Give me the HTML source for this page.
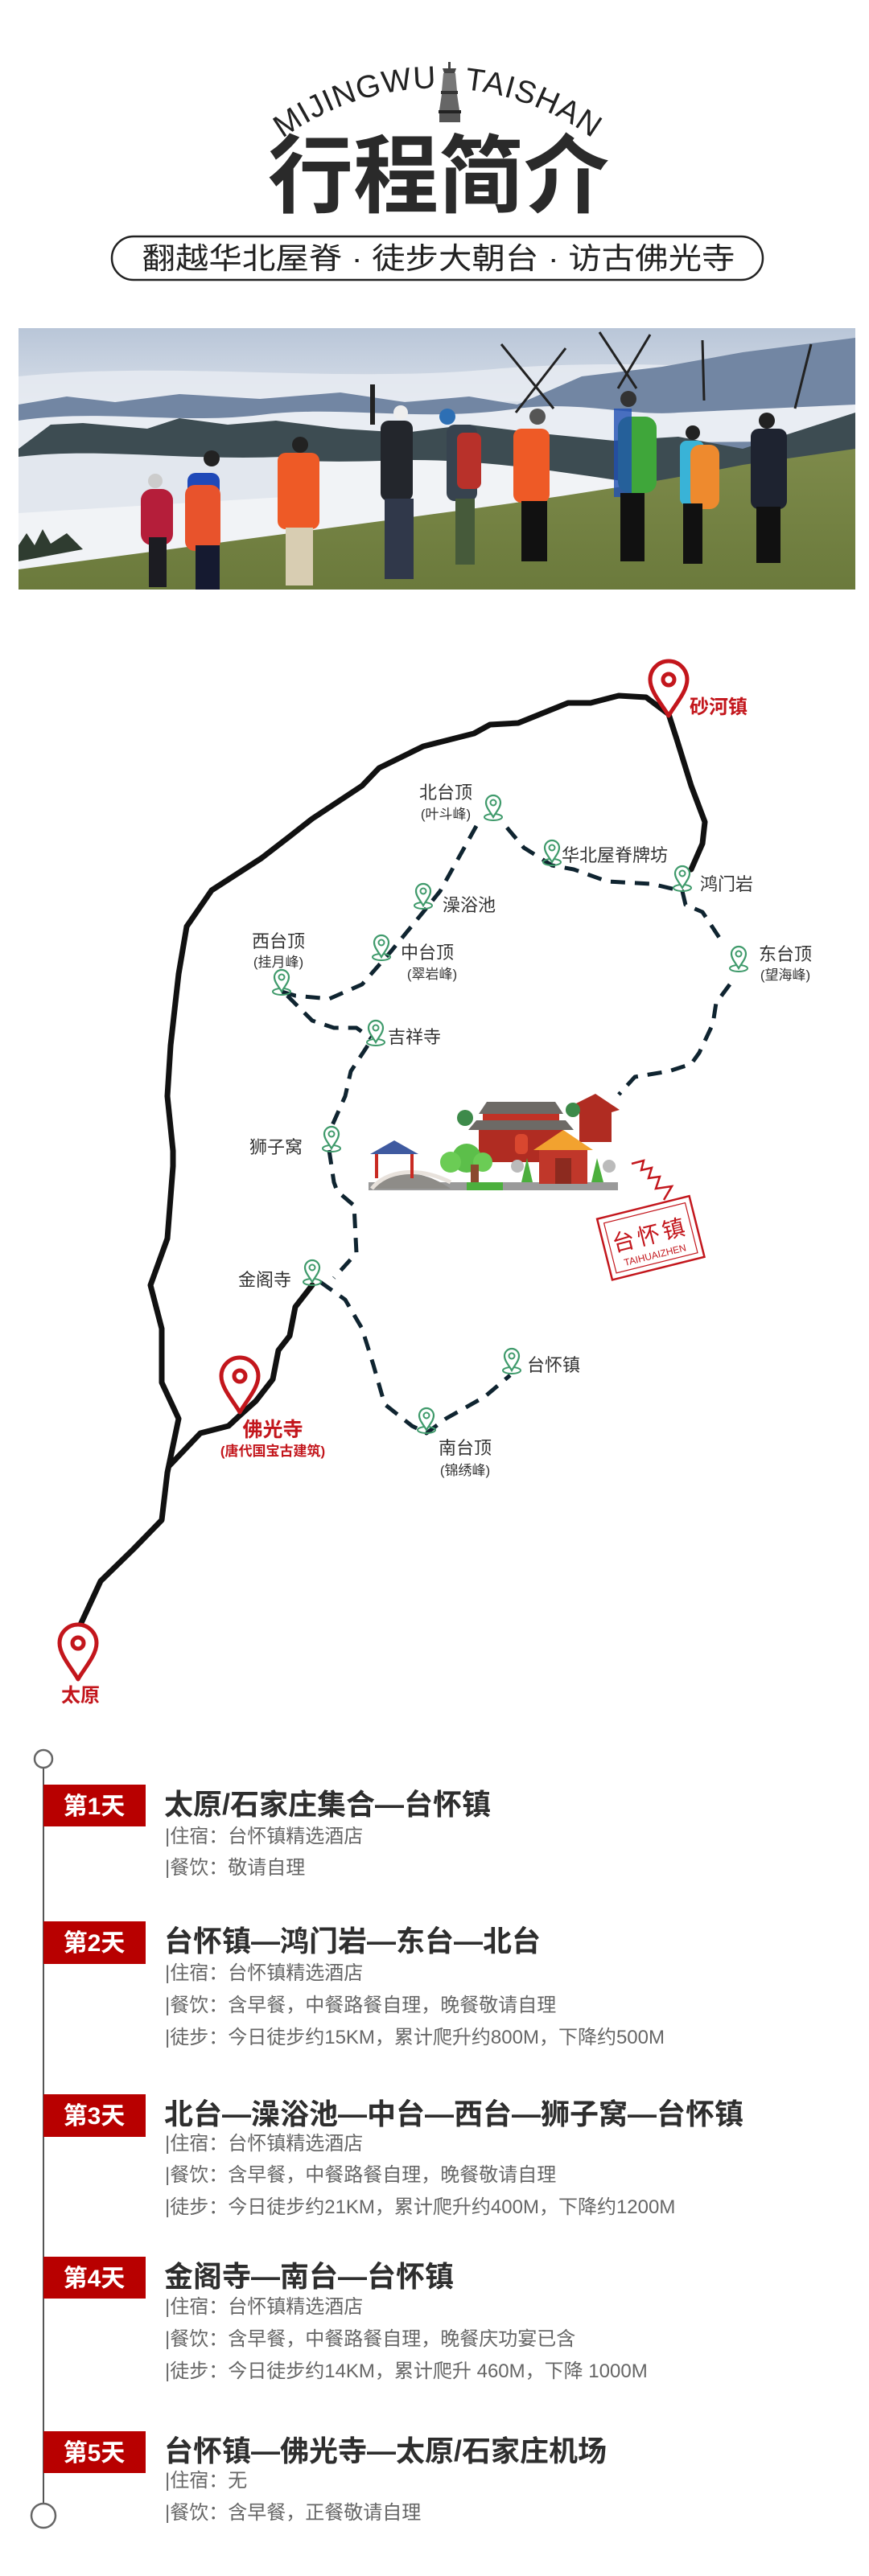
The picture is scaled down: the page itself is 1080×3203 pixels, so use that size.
<!DOCTYPE html>
<html><head><meta charset="utf-8">
<style>
html,body{margin:0;padding:0;background:#fff;}
svg{display:block;}
.cn{font-family:"Liberation Sans","Noto Sans CJK SC",sans-serif;}
</style></head>
<body>
<svg width="1080" height="3203" viewBox="0 0 1080 3203" xmlns="http://www.w3.org/2000/svg" class="cn">
<defs>
<path id="arc" d="M313,205 A327,327 0 0 1 775,205"/>
<linearGradient id="sky" x1="0" y1="0" x2="0" y2="1">
<stop offset="0" stop-color="#b9c6d8"/><stop offset="0.3" stop-color="#d9e0ea"/><stop offset="0.6" stop-color="#eef1f5"/><stop offset="1" stop-color="#f3f5f8"/>
</linearGradient>
<linearGradient id="grass" x1="0" y1="0" x2="0" y2="1">
<stop offset="0" stop-color="#7d8a4a"/><stop offset="1" stop-color="#6b7a3c"/>
</linearGradient>
<g id="gp">
<ellipse cx="0" cy="12" rx="11" ry="4" fill="none" stroke="#3f9a6b" stroke-width="2"/>
<path d="M0,12 C-4,5 -9,0 -9,-6 A9,9 0 0 1 9,-6 C9,0 4,5 0,12 Z" fill="#fff" stroke="#3f9a6b" stroke-width="2.2"/>
<circle cx="0" cy="-6" r="3.5" fill="none" stroke="#3f9a6b" stroke-width="2"/>
</g>
<g id="rp">
<path d="M0,34 C-8,20 -23,4 -23,-11 A23,23 0 0 1 23,-11 C23,4 8,20 0,34 Z" fill="#fff" stroke="#c3161c" stroke-width="5" stroke-linejoin="round"/>
<circle cx="0" cy="-11" r="7" fill="none" stroke="#c3161c" stroke-width="5"/>
</g>
</defs>

<!-- Header -->
<text font-family="Liberation Sans,sans-serif" font-size="39" fill="#222" text-anchor="middle"><textPath href="#arc" startOffset="50%" letter-spacing="1">MIJINGWU<tspan dx="34">TAISHAN</tspan></textPath></text>
<g fill="#444">
<rect x="557" y="77" width="3" height="8"/>
<path d="M550,85 h17 l-2,6 h-13 z"/>
<path d="M551,91 h15 l2,22 h-19 z" fill="#777"/>
<rect x="548" y="113" width="21" height="4" fill="#333"/>
<path d="M549,117 h19 l3,20 h-25 z" fill="#666"/>
<rect x="545" y="137" width="28" height="4" fill="#222"/>
<rect x="546" y="141" width="26" height="11" fill="#555"/>
</g>
<text x="545" y="256" font-size="106" font-weight="bold" fill="#2a2a2a" text-anchor="middle">行程简介</text>
<rect x="139" y="294" width="809" height="54" rx="27" fill="#fff" stroke="#222" stroke-width="2.5"/>
<text x="545" y="334" font-size="37" fill="#222" text-anchor="middle" textLength="737" lengthAdjust="spacingAndGlyphs">翻越华北屋脊 · 徒步大朝台 · 访古佛光寺</text>

<!-- Photo -->
<svg x="23" y="408" width="1040" height="325" viewBox="0 0 1040 325" preserveAspectRatio="none">
<rect width="1040" height="325" fill="url(#sky)"/>
<path d="M0,60 C200,40 400,70 600,50 C800,35 950,60 1040,45 L1040,90 C800,100 500,80 0,100 Z" fill="#e8ecf2" opacity="0.8"/>
<path d="M0,95 L60,85 L120,92 L200,82 L300,88 L400,80 L480,92 L560,85 L620,95 L700,60 L800,48 L900,30 L1040,12 L1040,170 L0,170 Z" fill="#7286a3"/>
<path d="M0,115 C100,100 200,120 300,108 C400,95 500,118 620,100 C700,90 760,110 820,105 L1040,95 L1040,140 L0,150 Z" fill="#e9edf3"/>
<path d="M0,150 L40,120 L80,118 L160,125 L200,112 L260,120 L320,115 L400,125 L480,130 L560,120 L640,130 L740,140 L820,135 L900,150 L1040,105 L1040,200 L0,200 Z" fill="#3d4c52"/>
<path d="M0,160 C150,150 300,170 450,165 C550,160 650,175 750,190 L750,300 L0,300 Z" fill="#f1f3f6"/>
<path d="M0,160 C100,148 200,165 330,160 L330,210 L0,230 Z" fill="#e2e7ee"/>
<path d="M0,325 L0,300 C150,280 300,260 450,240 C600,220 750,200 900,170 L1040,150 L1040,325 Z" fill="url(#grass)"/>
<path d="M0,270 L10,255 L20,270 L30,250 L40,268 L60,255 L80,275 L0,290 Z" fill="#2f3c30"/>
<g>
<rect x="152" y="200" width="40" height="70" rx="14" fill="#b51e3a"/><rect x="162" y="260" width="22" height="62" fill="#1c1c22"/><circle cx="170" cy="190" r="9" fill="#ccc"/>
<rect x="210" y="180" width="40" height="95" rx="10" fill="#1f49b8"/><rect x="207" y="195" width="44" height="82" rx="12" fill="#e8532c"/><rect x="220" y="270" width="30" height="55" fill="#151a30"/><circle cx="240" cy="162" r="10" fill="#222"/>
<rect x="322" y="155" width="52" height="95" rx="10" fill="#ee5a26"/><rect x="332" y="248" width="34" height="72" fill="#d8cdb2"/><circle cx="350" cy="145" r="10" fill="#222"/>
<rect x="450" y="115" width="40" height="100" rx="10" fill="#23262c"/><rect x="455" y="212" width="36" height="100" fill="#30384a"/><circle cx="475" cy="105" r="9" fill="#eee"/><rect x="437" y="70" width="6" height="50" fill="#222"/>
<rect x="532" y="120" width="38" height="95" rx="10" fill="#37434f"/><rect x="545" y="130" width="30" height="70" rx="8" fill="#b8312a"/><rect x="543" y="212" width="24" height="82" fill="#465a3a"/><circle cx="533" cy="110" r="10" fill="#2d6fb4"/>
<rect x="615" y="125" width="45" height="92" rx="10" fill="#ee5a26"/><rect x="625" y="215" width="32" height="75" fill="#111"/><circle cx="645" cy="110" r="10" fill="#555"/>
<rect x="745" y="110" width="48" height="95" rx="14" fill="#3fa63a"/><rect x="740" y="100" width="22" height="110" fill="#1f4fb3" opacity="0.8"/><rect x="748" y="205" width="30" height="85" fill="#111"/><circle cx="758" cy="88" r="10" fill="#333"/>
<rect x="822" y="140" width="30" height="80" rx="8" fill="#39b3d7"/><rect x="835" y="145" width="36" height="80" rx="12" fill="#ee8a2e"/><rect x="826" y="218" width="24" height="75" fill="#111"/><circle cx="838" cy="130" r="9" fill="#222"/>
<rect x="910" y="125" width="45" height="100" rx="10" fill="#1e2330"/><rect x="917" y="222" width="30" height="70" fill="#111"/><circle cx="930" cy="115" r="10" fill="#222"/>
<g stroke="#222" stroke-width="3"><line x1="600" y1="20" x2="665" y2="100"/><line x1="680" y1="25" x2="618" y2="105"/><line x1="722" y1="5" x2="768" y2="75"/><line x1="785" y1="8" x2="745" y2="75"/><line x1="850" y1="15" x2="852" y2="90"/><line x1="985" y1="20" x2="965" y2="100"/></g>
</g>
</svg>

<!-- Map solid roads -->
<g fill="none" stroke="#111" stroke-width="7" stroke-linecap="round" stroke-linejoin="round">
<path d="M831,888 L803,867 L769,865 L734,874 L706,874 L644,899 L609,901 L589,912 L526,928 L471,955 L450,977 L388,1018 L360,1040 L325,1067 L263,1107 L232,1152 L222,1211 L212,1300 L208,1363 L215,1431 L215,1450 L208,1540 L187,1598 L201,1652 L201,1719 L222,1764 L208,1831 L201,1890 L166,1926 L125,1966 L100,2020"/>
<path d="M831,888 L841,919 L859,977 L876,1022 L873,1049 L859,1081"/>
<path d="M388,1598 L367,1625 L360,1661 L346,1679 L339,1715 L318,1742 L298,1760 L284,1773 L249,1782 L211,1822"/>
</g>
<g fill="none" stroke="#0f2430" stroke-width="5" stroke-dasharray="18 12" stroke-linecap="butt" stroke-linejoin="round">
<path d="M592,1027 L547,1108 L526,1134 L485,1184 L450,1224 L409,1242 L367,1238 L350,1233"/>
<path d="M630,1029 L651,1054 L686,1076 L713,1081 L755,1096 L810,1099 L848,1108 L852,1125 L873,1134 L900,1175"/>
<path d="M907,1224 L890,1247 L886,1273 L869,1309 L859,1323 L831,1332 L789,1339 L769,1361"/>
<path d="M357,1238 L388,1269 L415,1278 L443,1278 L461,1291"/>
<path d="M457,1300 L436,1332 L429,1363 L409,1408"/>
<path d="M409,1430 L415,1470 L419,1481 L440,1499 L443,1558 L415,1589"/>
<path d="M398,1594 L429,1616 L450,1652 L464,1697 L478,1746 L512,1773 L530,1782 L554,1764 L602,1737 L634,1710"/>
</g>

<!-- Temple illustration -->
<g>
<rect x="458" y="1470" width="310" height="10" fill="#9a9a9a"/>
<path d="M462,1478 C480,1455 520,1450 560,1478 Z" fill="#8e8c88"/>
<path d="M462,1478 C480,1455 520,1450 560,1470" fill="none" stroke="#e8e2dc" stroke-width="5"/>
<path d="M460,1435 L490,1418 L520,1435 Z" fill="#3f5aa0"/>
<rect x="466" y="1435" width="4" height="30" fill="#c82a22"/><rect x="510" y="1435" width="4" height="30" fill="#c82a22"/>
<path d="M605,1370 L690,1370 L700,1385 L595,1385 Z" fill="#6d6a66"/>
<rect x="600" y="1385" width="95" height="8" fill="#c13226"/>
<path d="M592,1393 L703,1393 L713,1405 L582,1405 Z" fill="#6d6a66"/>
<rect x="595" y="1405" width="105" height="40" fill="#b02c22"/>
<rect x="640" y="1410" width="16" height="25" rx="6" fill="#d9472f"/>
<path d="M710,1375 L740,1360 L770,1380 L760,1383 L760,1420 L720,1420 L720,1383 Z" fill="#b02c22"/>
<path d="M663,1430 L700,1405 L737,1430 Z" fill="#f2a22f"/>
<rect x="670" y="1430" width="60" height="42" fill="#c0372a"/>
<rect x="690" y="1440" width="20" height="32" fill="#8c2a1f"/>
<circle cx="580" cy="1440" r="18" fill="#5cbf4a"/><circle cx="560" cy="1445" r="13" fill="#6bcc55"/><circle cx="600" cy="1445" r="12" fill="#6bcc55"/>
<rect x="585" y="1448" width="10" height="25" fill="#8b4a2e"/>
<rect x="580" y="1470" width="45" height="10" fill="#4caf3d"/>
<circle cx="578" cy="1390" r="10" fill="#3d8a4a"/><circle cx="712" cy="1380" r="9" fill="#3d8a4a"/>
<path d="M655,1440 L662,1470 L648,1470 Z" fill="#4caf3d"/><path d="M742,1440 L750,1470 L735,1470 Z" fill="#4caf3d"/>
<circle cx="643" cy="1450" r="8" fill="#bbb"/><circle cx="757" cy="1450" r="8" fill="#bbb"/>
</g>
<path d="M785,1447 L800,1443 L797,1455 L810,1452 L806,1465 L820,1463 L815,1478 L835,1475 L825,1492" fill="none" stroke="#c3161c" stroke-width="2.5"/>
<g transform="rotate(-14 810 1540)">
<rect x="750" y="1500" width="118" height="78" fill="none" stroke="#c3161c" stroke-width="2.5"/>
<rect x="757" y="1507" width="104" height="64" fill="none" stroke="#c3161c" stroke-width="1.2"/>
<text x="809" y="1545" font-size="28" fill="#c3161c" text-anchor="middle" letter-spacing="4">台怀镇</text>
<text x="809" y="1565" font-size="12" fill="#c3161c" text-anchor="middle" font-family="Liberation Sans,sans-serif">TAIHUAIZHEN</text>
</g>

<use href="#gp" x="613" y="1004"/>
<use href="#gp" x="686" y="1060"/>
<use href="#gp" x="848" y="1092"/>
<use href="#gp" x="526" y="1114"/>
<use href="#gp" x="474" y="1178"/>
<use href="#gp" x="350" y="1221"/>
<use href="#gp" x="918" y="1192"/>
<use href="#gp" x="467" y="1284"/>
<use href="#gp" x="412" y="1416"/>
<use href="#gp" x="388" y="1582"/>
<use href="#gp" x="636" y="1692"/>
<use href="#gp" x="530" y="1766"/>
<use href="#rp" x="831" y="856"/>
<use href="#rp" x="298" y="1722"/>
<use href="#rp" x="97" y="2054"/>

<g font-size="22" fill="#333">
<text x="554" y="993" text-anchor="middle">北台顶</text>
<text x="554" y="1018" text-anchor="middle" font-size="17">(叶斗峰)</text>
<text x="698" y="1071">华北屋脊牌坊</text>
<text x="870" y="1107">鸿门岩</text>
<text x="550" y="1133">澡浴池</text>
<text x="498" y="1192">中台顶</text>
<text x="537" y="1217" text-anchor="middle" font-size="17">(翠岩峰)</text>
<text x="346" y="1178" text-anchor="middle">西台顶</text>
<text x="346" y="1202" text-anchor="middle" font-size="17">(挂月峰)</text>
<text x="976" y="1194" text-anchor="middle">东台顶</text>
<text x="976" y="1218" text-anchor="middle" font-size="17">(望海峰)</text>
<text x="482" y="1297">吉祥寺</text>
<text x="343" y="1434" text-anchor="middle">狮子窝</text>
<text x="329" y="1599" text-anchor="middle">金阁寺</text>
<text x="655" y="1705">台怀镇</text>
<text x="578" y="1808" text-anchor="middle">南台顶</text>
<text x="578" y="1834" text-anchor="middle" font-size="17">(锦绣峰)</text>
</g>
<g fill="#c3161c" font-weight="bold">
<text x="857" y="887" font-size="24">砂河镇</text>
<text x="339" y="1786" font-size="25" text-anchor="middle">佛光寺</text>
<text x="339" y="1810" font-size="17" text-anchor="middle">(唐代国宝古建筑)</text>
<text x="100" y="2116" font-size="24" text-anchor="middle">太原</text>
</g>

<!-- Timeline -->
<line x1="54" y1="2198" x2="54" y2="3113" stroke="#555" stroke-width="2"/>
<circle cx="54" cy="2187" r="11" fill="#fff" stroke="#666" stroke-width="2.5"/>
<circle cx="54" cy="3128" r="15" fill="#fff" stroke="#666" stroke-width="2.5"/>

<g font-weight="bold">
<rect x="54" y="2219" width="127" height="52" fill="#b80000"/>
<rect x="54" y="2389" width="127" height="53" fill="#b80000"/>
<rect x="54" y="2604" width="127" height="53" fill="#b80000"/>
<rect x="54" y="2806" width="127" height="52" fill="#b80000"/>
<rect x="54" y="3023" width="127" height="52" fill="#b80000"/>
<g fill="#fff" font-size="30" text-anchor="middle">
<text x="117" y="2256">第1天</text>
<text x="117" y="2426">第2天</text>
<text x="117" y="2641">第3天</text>
<text x="117" y="2843">第4天</text>
<text x="117" y="3060">第5天</text>
</g>
<g fill="#2e2e2e" font-size="36">
<text x="204" y="2256">太原/石家庄集合—台怀镇</text>
<text x="204" y="2426">台怀镇—鸿门岩—东台—北台</text>
<text x="204" y="2641">北台—澡浴池—中台—西台—狮子窝—台怀镇</text>
<text x="204" y="2843">金阁寺—南台—台怀镇</text>
<text x="204" y="3060">台怀镇—佛光寺—太原/石家庄机场</text>
</g>
</g>
<g fill="#666" font-size="24">
<text x="205" y="2291">|住宿：台怀镇精选酒店</text>
<text x="205" y="2330">|餐饮：敬请自理</text>
<text x="205" y="2461">|住宿：台怀镇精选酒店</text>
<text x="205" y="2501">|餐饮：含早餐，中餐路餐自理，晚餐敬请自理</text>
<text x="205" y="2541">|徒步：今日徒步约15KM，累计爬升约800M，下降约500M</text>
<text x="205" y="2673">|住宿：台怀镇精选酒店</text>
<text x="205" y="2712">|餐饮：含早餐，中餐路餐自理，晚餐敬请自理</text>
<text x="205" y="2752">|徒步：今日徒步约21KM，累计爬升约400M，下降约1200M</text>
<text x="205" y="2876">|住宿：台怀镇精选酒店</text>
<text x="205" y="2916">|餐饮：含早餐，中餐路餐自理，晚餐庆功宴已含</text>
<text x="205" y="2956">|徒步：今日徒步约14KM，累计爬升 460M，下降 1000M</text>
<text x="205" y="3092">|住宿：无</text>
<text x="205" y="3132">|餐饮：含早餐，正餐敬请自理</text>
</g>
</svg>
</body></html>
